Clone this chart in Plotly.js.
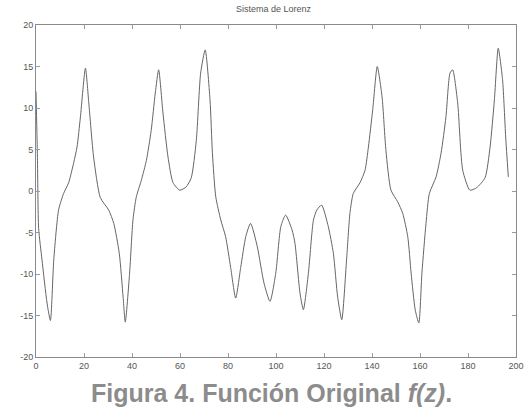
<!DOCTYPE html>
<html>
<head>
<meta charset="utf-8">
<script src="https://cdn.plot.ly/plotly-3.0.1.min.js"></script>
<style>
html,body{margin:0;padding:0;background:#fff;}
#chart{width:526px;height:408px;}
</style>
</head>
<body>
<div id="chart"></div>
<script>
const xVals = [0, 0.6, 1.1, 2.5, 4.6, 6.0, 7.4, 9.4, 11.5, 13.6, 15.7, 17.1, 18.5, 20.6, 22.0, 24.0, 26.8, 30.3, 32.4, 34.7, 36.3, 37.2, 39.0, 40.4, 41.8, 43.9, 46.0, 48.0, 49.7, 51.1, 52.9, 55.0, 57.1, 59.9, 62.6, 64.7, 66.8, 68.6, 70.5, 72.5, 73.5, 74.9, 77.0, 79.0, 81.1, 83.2, 85.3, 87.4, 89.4, 92.2, 95.0, 97.5, 99.9, 102.0, 104.0, 106.7, 107.9, 110.0, 111.4, 113.5, 115.6, 117.0, 119.0, 121.8, 123.9, 125.7, 127.4, 129.4, 130.8, 132.2, 135.0, 137.1, 138.5, 140.3, 142.2, 144.2, 145.8, 147.9, 150.7, 152.8, 154.9, 156.3, 158.0, 159.5, 160.8, 162.5, 163.9, 166.7, 168.8, 170.8, 172.5, 173.6, 175.7, 177.8, 180.8, 183.6, 187.1, 189.2, 191.0, 192.6, 194.4, 195.7, 196.8];
const yVals = [12, 4, -4.5, -8.3, -13.5, -15.6, -8.3, -2.3, -0.3, 1.0, 3.4, 5.3, 8.9, 14.8, 10.6, 4.1, -0.8, -2.3, -3.9, -7.5, -12.8, -15.8, -9.9, -3.5, -0.7, 1.3, 3.7, 7.3, 11.8, 14.6, 9.4, 4.1, 1.0, 0.1, 0.5, 1.6, 6.1, 14.2, 17.0, 11.0, 4.6, -0.7, -3.5, -5.5, -9.2, -12.9, -9.2, -5.5, -3.9, -6.7, -11.1, -13.3, -9.9, -4.3, -2.9, -4.7, -6.3, -12.3, -14.3, -9.9, -3.5, -2.3, -1.7, -4.3, -7.5, -12.8, -15.5, -8.3, -2.7, -0.3, 1.0, 2.5, 5.3, 9.8, 15.0, 11.3, 4.9, 0.1, -1.3, -2.7, -5.5, -9.9, -14.3, -15.9, -9.9, -3.9, -0.3, 1.7, 4.6, 8.9, 14.2, 14.6, 10.6, 2.5, 0.1, 0.4, 1.6, 5.3, 11.0, 17.2, 13.4, 6.5, 1.7];
const xTicks = [0, 20, 40, 60, 80, 100, 120, 140, 160, 180, 200];
const yTicks = [-20, -15, -10, -5, 0, 5, 10, 15, 20];
const titleText = "Sistema de Lorenz";
const captionText = 'Figura 4. Función Original <i>f(z)</i>.';

const trace = {
  x: xVals, y: yVals, type: 'scatter', mode: 'lines',
  line: {color: '#666666', width: 1, shape: 'spline', smoothing: 0.6},
  hoverinfo: 'skip'
};

const axisCommon = {
  showgrid: false, zeroline: false, showline: true, linecolor: '#8a8a8a', linewidth: 1,
  ticks: 'inside', ticklen: 4, tickcolor: '#9a9a9a', mirror: 'ticks',
  tickfont: {family: 'Liberation Sans, Arial, sans-serif', size: 9, color: '#555'}
};

const layout = {
  width: 526, height: 408,
  margin: {l: 36, r: 10, t: 25, b: 51},
  paper_bgcolor: '#ffffff', plot_bgcolor: '#ffffff',
  showlegend: false,
  title: {text: titleText, x: 0.52, xanchor: 'center', y: 0.985, yanchor: 'top',
          font: {family: 'Liberation Sans, Arial, sans-serif', size: 9, color: '#555'}},
  xaxis: Object.assign({}, axisCommon, {range: [0, 200], tickvals: xTicks, ticktext: xTicks.map(String)}),
  yaxis: Object.assign({}, axisCommon, {range: [-20, 20], tickvals: yTicks, ticktext: yTicks.map(String)}),
  annotations: [{
    xref: 'paper', yref: 'paper', x: 0.49, y: -0.108, xanchor: 'center', yanchor: 'middle',
    showarrow: false,
    text: captionText,
    font: {family: 'Liberation Sans, Arial, sans-serif', size: 25, color: '#8c8c8c', weight: 'bold'}
  }]
};

Plotly.newPlot('chart', [trace], layout, {staticPlot: true, displayModeBar: false});
</script>
</body>
</html>
